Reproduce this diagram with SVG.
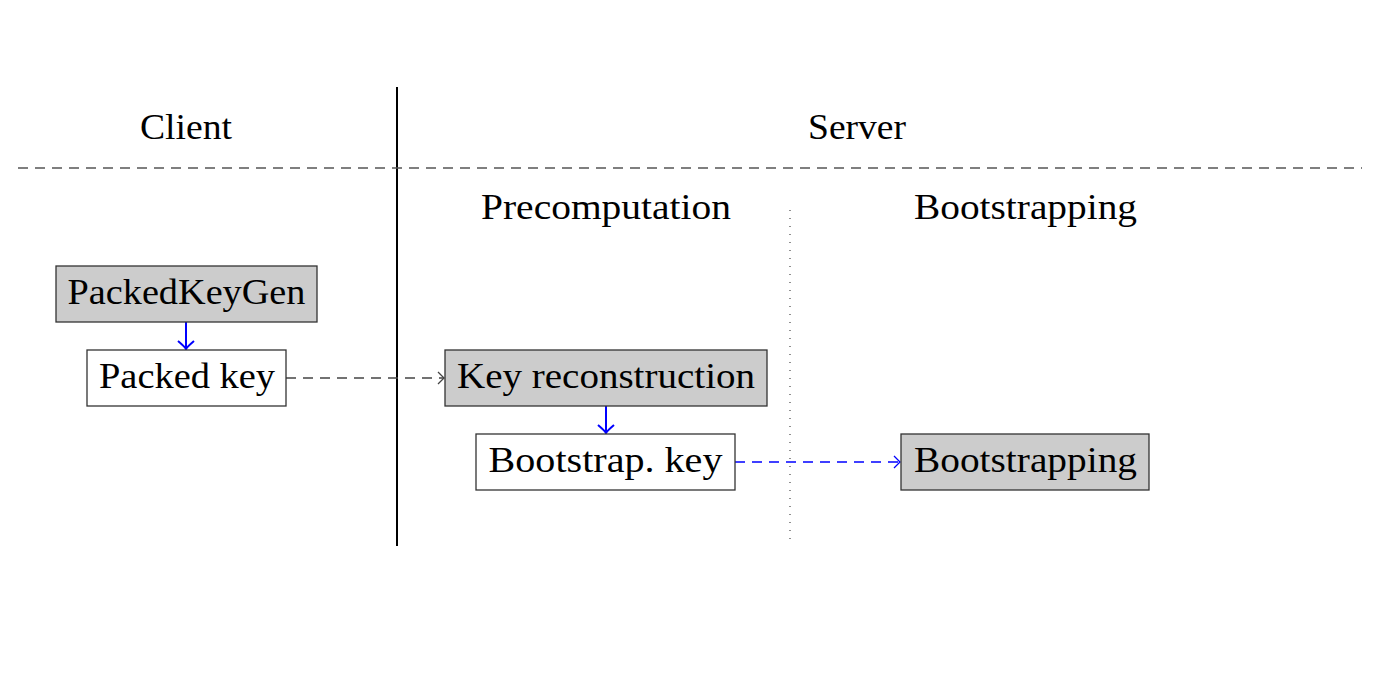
<svg xmlns="http://www.w3.org/2000/svg" width="1400" height="700" viewBox="0 0 1400 700">
<defs>
<style>
text{font-family:"Liberation Serif","DejaVu Serif",serif;font-size:36px;fill:#000;text-anchor:middle}
.box{stroke:#333;stroke-width:1.3}
.gray{fill:#cccccc}
.white{fill:#fff}
</style>
<marker id="ab" viewBox="-10 -9 12 18" markerWidth="12" markerHeight="18" refX="0" refY="0" orient="auto" markerUnits="userSpaceOnUse">
<path d="M-8,-8 Q-2,-1 0,0 Q-2,1 -8,8" fill="none" stroke="#0000ff" stroke-width="2"/>
</marker>
<marker id="ag" viewBox="-10 -8 12 16" markerWidth="12" markerHeight="16" refX="0" refY="0" orient="auto" markerUnits="userSpaceOnUse">
<path d="M-6,-6 Q-1,-1 0,0 Q-1,1 -6,6" fill="none" stroke="#444" stroke-width="1.3"/>
</marker>
<marker id="abd" viewBox="-10 -8 12 16" markerWidth="12" markerHeight="16" refX="0" refY="0" orient="auto" markerUnits="userSpaceOnUse">
<path d="M-6,-6 Q-1,-1 0,0 Q-1,1 -6,6" fill="none" stroke="#0000ff" stroke-width="1.3"/>
</marker>
</defs>
<rect width="1400" height="700" fill="#fff"/>
<g id="frame">
<line x1="397" y1="87" x2="397" y2="546" stroke="#000" stroke-width="2"/>
<line x1="18" y1="168" x2="1362" y2="168" stroke="#555" stroke-width="1.5" stroke-dasharray="10,7"/>
<line x1="790" y1="210" x2="790" y2="543" stroke="#555" stroke-width="1.3" stroke-dasharray="1,7"/>
<text x="186" y="139" textLength="92" lengthAdjust="spacingAndGlyphs">Client</text>
<text x="857" y="139" textLength="98" lengthAdjust="spacingAndGlyphs">Server</text>
<text x="606" y="219" textLength="250" lengthAdjust="spacingAndGlyphs">Precomputation</text>
<text x="1025.5" y="219" textLength="223" lengthAdjust="spacingAndGlyphs">Bootstrapping</text>
</g>
<g id="connectors">
<line x1="186" y1="322" x2="186" y2="349" stroke="#0000ff" stroke-width="2" marker-end="url(#ab)"/>
<line x1="606" y1="406" x2="606" y2="433" stroke="#0000ff" stroke-width="2" marker-end="url(#ab)"/>
<line x1="286" y1="378" x2="444" y2="378" stroke="#444" stroke-width="1.3" stroke-dasharray="10,7" marker-end="url(#ag)"/>
<line x1="735" y1="462" x2="900" y2="462" stroke="#0000ff" stroke-width="1.3" stroke-dasharray="10,7" marker-end="url(#abd)"/>
</g>
<g id="packedkeygen">
<rect class="box gray" x="56" y="266" width="261" height="56"/>
<text x="186.5" y="304" textLength="238" lengthAdjust="spacingAndGlyphs">PackedKeyGen</text>
</g>
<g id="packedkey">
<rect class="box white" x="87" y="350" width="199" height="56"/>
<text x="187" y="388" textLength="176" lengthAdjust="spacingAndGlyphs">Packed key</text>
</g>
<g id="keyreconstruction">
<rect class="box gray" x="445" y="350" width="322" height="56"/>
<text x="606" y="388" textLength="298" lengthAdjust="spacingAndGlyphs">Key reconstruction</text>
</g>
<g id="bootstrapkey">
<rect class="box white" x="476" y="434" width="259" height="56"/>
<text x="605.5" y="472" textLength="234" lengthAdjust="spacingAndGlyphs">Bootstrap. key</text>
</g>
<g id="bootstrapping">
<rect class="box gray" x="901" y="434" width="248" height="56"/>
<text x="1025.5" y="472" textLength="223" lengthAdjust="spacingAndGlyphs">Bootstrapping</text>
</g>
</svg>
